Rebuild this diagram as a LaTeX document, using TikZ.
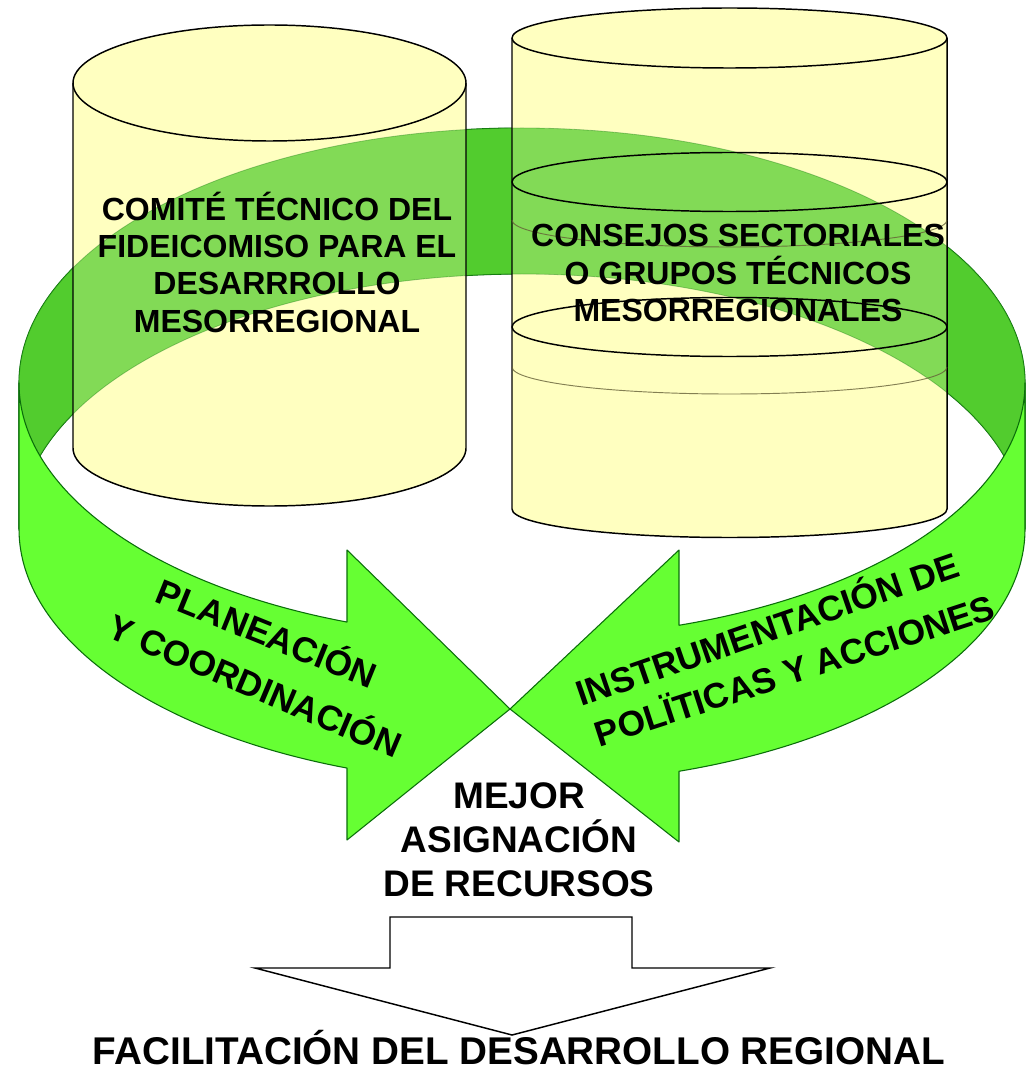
\documentclass[tikz,border=0pt]{standalone}
\usepackage{fontspec}
\setmainfont{Liberation Sans}
\definecolor{bandback}{RGB}{82,204,46}
\definecolor{bandfront}{RGB}{102,255,51}
\definecolor{bandline}{RGB}{10,110,10}
\definecolor{cylfill}{RGB}{255,255,192}
\definecolor{thinarc}{RGB}{100,95,55}
\begin{document}
\begin{tikzpicture}[x=0.75pt, y=-0.75pt,
  ringedge/.style={draw=bandline, line width=0.8pt, line join=round},
  cylfillstyle/.style={fill=cylfill},
  cyledge/.style={draw=black, line width=1.1pt, line join=round},
  thinarcstyle/.style={draw=thinarc, line width=0.7pt, draw opacity=0.8},
  cyltext/.style={font=\bfseries\fontsize{24}{28}\selectfont, align=center, inner sep=0pt},
  arrowtext/.style={font=\bfseries\fontsize{26.5}{30}\selectfont, inner sep=0pt, text height=0.72em, text depth=0pt},
  bigtext/.style={font=\bfseries\fontsize{27.75}{33}\selectfont, align=center, inner sep=0pt},
  basetext/.style={font=\bfseries\fontsize{29}{34}\selectfont, inner sep=0pt, text height=0.72em, text depth=0pt},
  blockarrow/.style={draw=black, fill=white, line width=1.1pt, line join=miter}
]
\useasboundingbox (0,0) rectangle (1030,1080);
\fill[white] (0,0) rectangle (1030,1080);

% ---- back (inner) surface of the ring band ----
\path[fill=bandback, ringedge] (19,383) arc[start angle=180, end angle=360, x radius=503, y radius=255]
  -- (1025,529) arc[start angle=0, end angle=-180, x radius=503, y radius=255] -- cycle;

% ---- cylinder bodies (fill) ----
\path[cylfillstyle] (73,83) -- (73,448) arc[start angle=180, end angle=0, x radius=196.5, y radius=58]
  -- (466,83) arc[start angle=0, end angle=-180, x radius=196.5, y radius=58] -- cycle;
\path[cylfillstyle] (512,38) -- (512,509) arc[start angle=180, end angle=0, x radius=217.5, y radius=28.5]
  -- (947,38) arc[start angle=0, end angle=-180, x radius=217.5, y radius=30] -- cycle;

% ---- band seen through the cylinders ----
\path[fill=bandback, fill opacity=0.72, draw=bandline, draw opacity=0.35, line width=0.6pt]
  (19,383) arc[start angle=180, end angle=360, x radius=503, y radius=255]
  -- (1025,529) arc[start angle=0, end angle=-180, x radius=503, y radius=255] -- cycle;

% ---- cylinder outlines ----
\draw[cyledge] (73,83) -- (73,448) arc[start angle=180, end angle=0, x radius=196.5, y radius=58] -- (466,83);
\draw[cyledge] (269.5,83) ellipse[x radius=196.5, y radius=58];

\draw[cyledge] (512,38) -- (512,509) arc[start angle=180, end angle=0, x radius=217.5, y radius=28.5] -- (947,38);
\draw[cyledge] (729.5,38) ellipse[x radius=217.5, y radius=30];
\draw[cyledge] (729.5,182) ellipse[x radius=217.5, y radius=29.5];
\draw[cyledge] (729.5,327) ellipse[x radius=217.5, y radius=29.5];
\draw[thinarcstyle] (512,220) arc[start angle=180, end angle=0, x radius=217.5, y radius=27];
\draw[thinarcstyle] (512,367) arc[start angle=180, end angle=0, x radius=217.5, y radius=27];

% ---- front surface: two arrows ----
\coordinate (tip) at (510,709);
\path[fill=bandfront, ringedge] (19,383) arc[start angle=180, end angle=110.36, x radius=503, y radius=255]
  -- (347,550) -- (tip) -- (347,840)
  -- ({522+503*cos(110.36)},{529+255*sin(110.36)})
  arc[start angle=110.36, end angle=180, x radius=503, y radius=255] -- cycle;
\path[fill=bandfront, ringedge] (1025,383) arc[start angle=0, end angle=71.81, x radius=503, y radius=255]
  -- (679,550) -- (tip) -- (679,842)
  -- ({522+503*cos(71.81)},{529+255*sin(71.81)})
  arc[start angle=71.81, end angle=0, x radius=503, y radius=255] -- cycle;

% ---- texts ----
\node[cyltext] (comite) at (277,262) {COMITÉ TÉCNICO DEL\\FIDEICOMISO PARA EL\\DESARRROLLO\\MESORREGIONAL};
\node[cyltext] (consejos) at (738,273) {CONSEJOS SECTORIALES\\O GRUPOS TÉCNICOS\\MESORREGIONALES};

\node[arrowtext, rotate=-22] (plan1) at (264,641) {PLANEACIÓN};
\node[arrowtext, rotate=-23] (plan2) at (252,693) {Y COORDINACIÓN};
\node[arrowtext, rotate=19] (instr1) at (770,637) {INSTRUMENTACIÓN DE};
\node[arrowtext, rotate=18] (instr2) at (797,678) {POLÏTICAS Y ACCIONES};

\node[bigtext] (mejor) at (519,840) {MEJOR\\ASIGNACIÓN\\DE RECURSOS};

% ---- bottom block arrow ----
\path[blockarrow] (390,917) -- (632,917) -- (632,968) -- (770,968) -- (512,1035) -- (255,968) -- (390,968) -- cycle;

\node[basetext] (facil) at (519,1060) {FACILITACIÓN DEL DESARROLLO REGIONAL};
\end{tikzpicture}
\end{document}
